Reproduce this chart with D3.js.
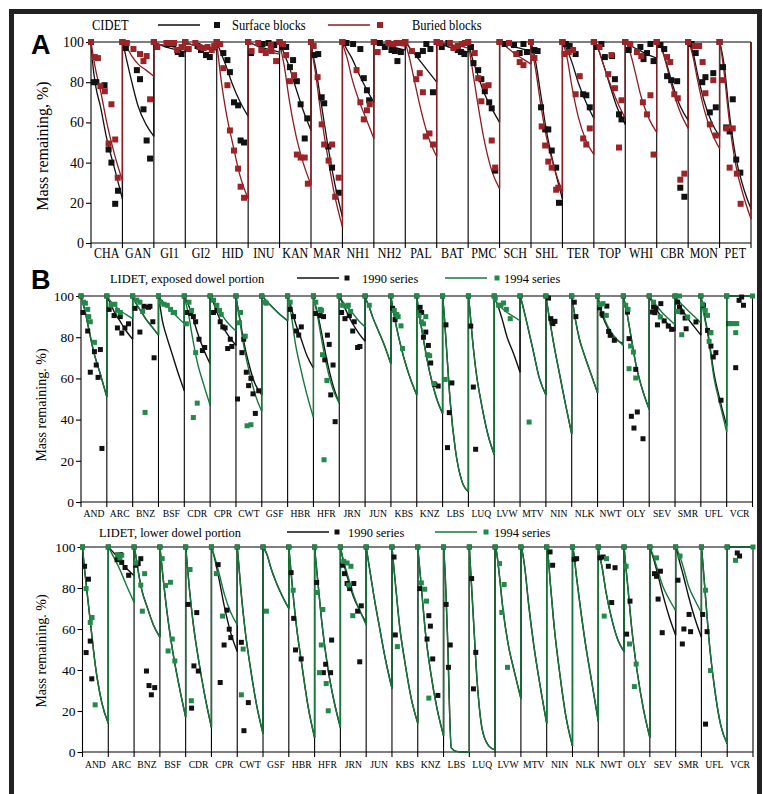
<!DOCTYPE html>
<html><head><meta charset="utf-8">
<script src="https://cdn.jsdelivr.net/npm/d3@7"></script>
<style>body{margin:0;background:#fff}svg{display:block}</style>
</head><body>
<svg id="c" width="763" height="794"></svg>
<script>
// ---------------- DATA ----------------
// model curve sample times (years) within each site's panel segment
const curveTimes = [0, 0.5, 1.5, 3, 5, 7.5, 10];
const initialMass = 100; // every series starts at 100 % at t = 0
const yTicks = [0, 20, 40, 60, 80, 100];

// Panel A: CIDET
const sitesA = ["CHA","GAN","GI1","GI2","HID","INU","KAN","MAR","NH1","NH2","PAL","BAT","PMC","SCH","SHL","TER","TOP","WHI","CBR","MON","PET"];
const surfaceCurve = [
 [100,90,78,68,52,37,22],[100,97,90,80,68,59,53],[100,99.5,99,98,97,96,95],[100,99.5,99,98.5,98,97,96],
 [100,98,94,88,79,70,63],[100,99.5,99,98,97,96,95],[100,98,94,88,78,66,56],[100,95,87,72,52,30,13],
 [100,99,96,92,85,77,70],[100,99.5,99,98.5,98,97,96],[100,99,97,94,90,85,80],[100,99.5,99,98,97,96,95],
 [100,97,91,84,75,67,60],[100,99.5,99,98.5,97.5,96.5,95.5],[100,97,90,75,55,37,22],[100,99,96,90,80,70,62],
 [100,99,96,89,79,67,59],[100,99.5,98.5,97,95.5,93.5,92],[100,99.5,97,90,79,68,61],[100,99,95,84,71,60,53],
 [100,97,88,66,44,28,17]];
const buriedCurve = [
 [100,95,86,76,60,44,31],[100,99,97,93,89,86,83],[100,99.5,99,98.5,98,97,96],[100,99.5,99,98.5,98,97.5,97],
 [100,93,80,65,50,33,22],[100,99.5,99,98,96.5,95,94],[100,96,88,72,55,40,29],[100,94,84,66,46,24,8],
 [100,97,92,82,72,62,52],[100,99.5,99.5,99,99,98.5,98],[100,97,91,80,66,52,43],[100,99.5,99.5,99,98.5,98,97],
 [100,95,85,70,52,36,27],[100,99.5,98.5,96.5,94,91.5,89],[100,95,86,70,52,37,25],[100,98,92,78,63,51,44],
 [100,99,96,89,80,70,62],[100,99,95,86,73,62,55],[100,99.5,97,89,77,65,57],[100,98.5,93,81,67,55,47],
 [100,96,84,62,40,24,12]];
const surfacePts = [
 [[0.9,80],[1.7,80],[4.3,78.5],[5.6,46.5],[6.5,40],[7.7,19.5],[8.6,26]],
 [[1.1,97],[4.6,86],[5.6,81.5],[6.7,66.5],[7.7,51],[8.8,42]],
 [[0.9,97.5],[4.2,99],[6.2,99],[7.6,95],[8.8,94]],
 [[3.9,98],[5.0,96],[6.6,93.5],[7.8,92.5]],
 [[0.2,99],[2.1,94.5],[3.4,91],[4.2,85],[5.5,70],[6.8,68.5],[7.6,51],[8.7,50]],
 [[0.9,94.5],[4.6,99],[6.5,99.5],[8.3,98.5]],
 [[0.9,97.5],[2.1,97.5],[3.3,87.5],[4.3,91],[5.5,80.5],[6.7,69],[8.0,52],[8.8,62]],
 [[1.1,93.5],[2.3,94],[3.4,72.5],[4.2,69.5],[5.5,48],[6.7,37.5],[8.8,25]],
 [[1.3,99.5],[3.4,99],[5.7,96.5],[6.8,82],[7.8,76],[8.5,71]],
 [[1.9,99.5],[3.5,97.5],[5.6,96],[6.7,95.5],[7.5,90.5],[8.6,95]],
 [[4.0,93.5],[5.6,95.5],[6.7,99],[8.0,96.5],[8.8,75]],
 [[1.6,97.5],[3.7,99.5],[6.7,96],[7.7,95],[8.8,94]],
 [[0.9,97.5],[1.7,89.5],[3.2,86],[4.2,81.5],[5.3,75.5],[6.7,70],[7.5,67],[8.6,36]],
 [[1.6,99],[4.6,98.5],[6.4,94.5],[7.6,99],[8.7,95]],
 [[1.1,96],[2.1,95.5],[3.2,67.5],[4.5,56.5],[5.5,56.5],[6.6,46],[8.0,37.5],[8.9,20]],
 [[1.1,99],[2.3,98],[4.2,94],[6.6,74],[7.6,73.5],[8.7,67.5]],
 [[0.9,97.5],[2.4,99],[3.5,92.5],[5.8,93],[6.7,81.5],[8.0,64],[8.8,61.5]],
 [[1.1,96],[4.8,97.5],[5.8,91.5],[6.9,94.5],[8.0,99],[9.0,90.5]],
 [[1.2,98.5],[2.4,96.5],[3.3,83],[4.6,81],[6.5,80.5],[7.5,27.5],[8.8,23]],
 [[1.1,99],[2.4,94.5],[4.5,80],[5.5,82.5],[6.9,65],[8.0,84.5],[8.8,67.5]],
 [[1.1,87.5],[2.1,57.5],[3.2,55.5],[4.2,71.5],[5.3,41.5],[6.6,35]]];
const buriedPts = [
 [[1.2,92.5],[2.2,92],[3.0,78],[4.4,75.5],[6.5,69],[5.6,49.5],[7.7,51.5],[8.5,32.5]],
 [[1.4,99.5],[3.5,96.5],[5.6,94],[6.7,90.5],[7.7,93],[8.8,71.5]],
 [[1.1,97.5],[4.0,99.5],[5.3,99.5],[6.4,99.5],[7.4,96],[8.8,97.5]],
 [[1.1,96.5],[3.2,99.5],[4.5,97.5],[5.8,97],[7.1,97.5],[8.4,96],[9.2,98]],
 [[1.1,99],[2.1,87],[3.4,78.5],[4.2,56],[5.5,46],[6.8,37],[7.6,28],[8.7,22.5]],
 [[1.1,95.5],[3.2,99.5],[4.2,96],[5.6,94.5],[7.2,98.5],[7.4,95.5],[8.9,90.5]],
 [[1.1,99],[2.1,93.5],[3.3,80.5],[4.6,83.5],[5.5,44],[6.7,42.5],[8.0,42.5],[9.0,29.5]],
 [[0.85,98],[2.1,82.5],[3.4,59],[4.2,49],[5.6,41],[6.7,49],[7.7,23],[8.8,32.5]],
 [[4.5,86],[5.7,70],[6.8,61.5],[7.8,66],[8.7,69]],
 [[1.2,95],[4.6,99.5],[6.2,99],[7.2,99.5],[8.8,99.5]],
 [[2.1,95.5],[3.5,81.5],[4.6,84.5],[5.6,75],[6.5,53],[7.7,54.5],[8.8,49]],
 [[1.1,99.5],[4.2,99.5],[5.3,97],[6.7,98],[8.0,99],[9.0,99.5]],
 [[2.1,94.5],[3.2,82],[4.2,70.5],[5.4,78],[6.5,78.5],[7.5,51],[8.6,37.5]],
 [[3.0,99.5],[5.3,94],[6.4,90],[7.6,88.5]],
 [[1.1,92],[3.4,58],[4.5,48.5],[5.5,40.5],[6.6,37.5],[8.0,26.5],[8.7,27.5]],
 [[0.7,94],[2.0,95],[3.4,96],[4.2,74],[5.5,83],[6.6,52],[7.6,49],[8.7,57]],
 [[1.8,97.5],[4.6,84],[5.6,93.5],[6.7,77],[8.0,47.5],[8.8,71]],
 [[1.6,99],[3.7,95],[5.1,93],[5.6,70],[6.9,64],[8.0,73.5],[9.0,44]],
 [[3.3,92.5],[4.3,90],[5.6,74],[6.7,72],[7.5,31.5],[8.8,34.5]],
 [[2.1,98],[3.5,98],[4.6,90],[5.5,74.5],[6.9,59],[8.0,81],[8.8,53.5]],
 [[1.1,81],[2.1,57],[3.2,37.5],[4.2,57],[5.5,34.5],[6.7,19.5]]];

// Panels B and C: LIDET
const sitesL = ["AND","ARC","BNZ","BSF","CDR","CPR","CWT","GSF","HBR","HFR","JRN","JUN","KBS","KNZ","LBS","LUQ","LVW","MTV","NIN","NLK","NWT","OLY","SEV","SMR","UFL","VCR"];
const exposed1990Curve = [
 [100,97.5,93,84,72.5,62,51],[100,98.5,96,92,88,83,79],[100,98.5,96,93,89,85,81],[100,96,88,81,73,63,54],
 [100,98.5,96,91,82.5,74,67],[100,99,96,91,85,80,76],[100,96,89,78,67,57,52],[100,99.5,98,96,93.5,90.5,88],
 [100,98,94,87,80,71,65],[100,97,92,83,70,57,48],[100,98.5,96,92,87,82,78],[100,98,95,89.5,83.5,76,67],
 [100,96,89,80,70,60,52],[100,95,87,76,63,51,43],[100,93,75,48,25,10,5],[100,94,80,63,48,33,23],
 [100,98,95,89,80,72,63],[100,98,93,85,74,60,52],[100,96,88,77,64,48,33],[100,96,88,79,71,62,53],
 [100,97.5,92,87,82,78.5,77],[100,97,91,80,66,54,45],[100,98.5,96.5,93,89.5,86,83],[100,99,96.5,93,89,85,81],
 [100,97,90,80,63,49,37],[100,100,100,100,100,100,100]];
const exposed1994Curve = [
 [100,97.5,93,84,72.5,62,51],[100,99,97.5,95.5,93,91,89],[100,98.5,96,93,89,85,81],[100,99,97.5,95.5,93,89.5,86.5],
 [100,97,92,81,68,57,47],[100,99,97,94,90,86,83],[100,96,88,76,64,52,44],[100,99.5,98,96,93.5,90.5,88],
 [100,97,90,77,65,52,41],[100,97,91,80,67,55,48],[100,99,97,95,92,88,85],[100,98,95,89.5,83.5,76,67],
 [100,96,89,80,70,60,52],[100,95,87,76,63,51,43],[100,93,75,48,25,10,5],[100,94,80,63,48,33,23],
 [100,98,96,94,92,90,88],[100,98,93,85,74,60,52],[100,96,88,77,64,48,33],[100,96,88,79,71,62,53],
 [100,98,93,88,83,79,76],[100,97,91,80,66,54,45],[100,99,97.5,95,92,89,86],[100,99,97.5,95.5,93,90,87],
 [100,96,89,79,61,47,34],[100,100,100,100,100,100,100]];
const exposed1990Pts = [
 [[0.8,92],[2.6,83],[3.6,63],[5.2,73],[5.9,66.5],[6.6,60.5],[7.5,74],[8.1,26]],
 [[0.9,93.5],[2.8,90.5],[4.1,84.5],[5.2,90],[5.8,82],[7.0,84.5],[8.4,86.5]],
 [[0.9,94],[2.8,82.5],[4.4,95],[6.1,94.5],[6.7,95],[7.8,87.5],[8.3,70]],
 [],
 [[1.2,92],[2.5,91.5],[3.5,90],[4.4,87.5],[5.7,79],[7.0,73.5],[7.9,75]],
 [[1.3,92],[2.6,93],[3.9,87.5],[4.9,85],[5.8,84.5],[6.8,74.5],[7.8,79],[8.4,75.5]],
 [[0.6,50],[1.7,92],[2.3,72.5],[3.0,79],[4.0,63],[4.9,56.5],[5.8,60],[6.6,52.5],[7.5,43],[8.8,54]],
 [],
 [[1.0,93.5],[2.3,90],[3.4,83],[4.3,81],[5.3,85]],
 [[0.9,91.5],[2.6,90.5],[3.9,90],[4.4,69],[5.4,81],[6.1,76.5],[6.7,52],[7.6,66.5],[8.4,39]],
 [[0.9,92],[2.2,89],[3.9,90.5],[5.2,83],[5.8,87.5],[7.1,75],[8.0,75.5]],
 [],
 [[0.65,94],[1.6,88.5]],
 [[1.3,94.5],[1.9,92],[2.6,80],[3.5,82.5],[4.5,76],[5.4,67.5],[7.0,57],[8.3,56.3]],
 [[1.3,86],[3.6,57.8],[2.6,43.4],[1.9,26.4]],
 [[0.9,85.4],[1.9,55.8],[2.8,25.6]],
 [],
 [],
 [[1.0,99],[1.9,89],[2.7,86.6],[3.5,87.7]],
 [[1.0,97],[1.6,90]],
 [[0.8,94.2],[1.7,91.4],[2.1,90.6],[3.6,95.1],[4.3,82.8],[4.9,80.9],[6.5,78.5]],
 [[1.6,92.2],[2.2,79.3],[4.8,64.4],[3.1,41.6],[5.4,43.7],[4.1,35.9],[7.6,30.7]],
 [[1.3,92.2],[1.7,94.7],[2.2,91.9],[2.6,94],[3.2,86],[4.5,96.3],[5.8,87.9],[7.4,85.4],[8.7,83.8]],
 [[1.0,97],[1.7,94.5],[2.7,92.2],[3.9,89.3],[4.3,84.1],[8.1,87.4]],
 [[1.0,95.5],[2.6,83.3],[3.6,82.2],[3.9,75.7],[4.8,70.4],[5.8,72.5],[7.8,49.4]],
 [[0.9,86.6],[3.5,65.2],[4.8,97.9],[5.8,99.5],[6.5,95.5]]];
const exposed1994Pts = [
 [[1.0,97],[1.7,96.5],[2.6,93.5],[3.0,90],[3.6,87.5],[5.2,77.5]],
 [[1.6,95.5],[3.1,96],[4.1,93],[5.2,92]],
 [[1.6,98],[2.8,97],[3.9,92.5],[4.8,43.5]],
 [[0.8,97],[2.1,96],[3.4,95.5],[4.7,93.5],[5.7,92],[6.2,92]],
 [[0.8,86.5],[1.8,97],[2.8,93],[4.4,72.5],[3.5,41],[5.0,48]],
 [[1.3,98],[2.6,95.5],[3.6,93],[4.3,91]],
 [[1.4,87],[1.7,92],[3.6,80.5],[4.3,37],[5.8,37.5]],
 [[1.3,97],[1.7,96.5]],
 [[1.0,97]],
 [[0.9,97],[2.6,93.5],[3.1,93],[3.5,71.5],[5.2,59],[4.1,20.5]],
 [[1.3,95.5],[2.6,95],[3.5,95.5],[4.4,92.5]],
 [[1.6,95.5]],
 [[1.3,93],[2.3,91],[2.8,90],[3.9,85.5],[4.5,74.5]],
 [[0.9,90.5],[1.8,87.5],[2.6,86.5],[3.5,90],[4.1,71.5],[5.0,71],[6.7,57.5]],
 [[1.0,59.5]],
 [],
 [[0.4,99],[1.7,95.5],[2.6,95.5],[3.6,96.6],[4.7,93.5],[6.2,89]],
 [[3.5,38.8]],
 [],
 [],
 [[1.0,95.8],[2.1,96.3],[3.4,90.6]],
 [[0.9,95.5],[1.8,93.5],[2.8,75.7],[3.9,72.8],[2.2,64.7],[4.8,60.2]],
 [[1.7,97],[4.3,89.8]],
 [[1.7,100],[1.0,92.5],[2.6,81.2],[4.9,89.8]],
 [[0.6,96],[1.7,93],[2.6,90.6],[3.9,82.2],[3.2,78]],
 [[1.3,86.6],[2.8,86.6],[3.9,86.6],[3.5,82.2],[10,100]]];

const lower1990Curve = [
 [100,93,81,64,42,24,14],[100,99.5,98,96,92.5,89,86],[100,97,89,79,71,62,56],[100,94,82,66,49,32,17],
 [100,93,79,62,45,27,12],[100,98,93,84,71,58,49],[100,93,78,60,42,23,9],[100,99,96.5,90,83,76,70],
 [100,93,79,61,43,22,7],[100,93,80,61,42,25,12],[100,97,91,84,76,69,63],[100,96,88,76,62,45,31],
 [100,93,80,61,44,26,14],[100,93,79,58,39,21,8],[100,90,58,2,0.3,0,0],[100,89,67,35,11,3,1],
 [100,98,88,70,53,39,26],[100,98,90,72,52,32,14],[100,96,81,60,39,17,3],[100,97,86,71,53,34,15],
 [100,96,90,78,66,55,49],[100,93,80,60,40,21,7],[100,98,94,87,77,66,57],[100,98,93,86,76,65,56],
 [100,93,77,54,32,13,4],[100,100,100,100,100,100,100]];
const lower1994Curve = [
 [100,93,81,64,42,24,14],[100,99,96.5,93,87.5,80,73],[100,97,89,79,71,62,56],[100,94,82,66,49,32,17],
 [100,93,79,62,45,27,12],[100,98,94,87,77,68,62],[100,93,78,60,42,23,9],[100,99,96.5,90,83,76,70],
 [100,93,79,61,43,22,7],[100,93,80,61,42,25,12],[100,97,92,85.5,77,69,62],[100,96,88,76,62,45,31],
 [100,93,80,61,44,26,14],[100,93,79,58,39,21,8],[100,90,58,2,0.3,0,0],[100,89,67,35,11,3,1],
 [100,98,88,70,53,39,26],[100,98,90,72,52,32,14],[100,96,81,60,39,17,3],[100,97,86,71,53,34,15],
 [100,96,90,78,66,55,49],[100,93,80,60,40,21,7],[100,98.5,95,89,81,74.5,69],[100,99,96,90,81,74,68],
 [100,93,77,54,32,13,4],[100,100,100,100,100,100,100]];
const lower1990Pts = [
 [[0.8,90.6],[1.4,48.5],[2.3,84.3],[3.0,54.1],[3.6,35.7]],
 [[3.4,93.8],[4.7,96.3],[5.2,92.5],[6.5,90],[7.9,86.2]],
 [[0.65,91.1],[1.6,91.9],[2.6,94.3],[4.8,39.5],[5.8,32.4],[6.7,27.9],[8.0,31.4]],
 [],
 [[0.9,72],[2.3,21.4],[4.3,68],[3.2,42],[4.9,39.5]],
 [[2.6,91.4],[3.4,33.9],[4.9,52.2],[6.0,69.2],[6.9,59.9],[7.5,55.8]],
 [[1.6,53.5],[4.3,24.1],[2.6,10.4]],
 [],
 [[0.9,87.5],[1.9,65.2],[2.6,49.8],[4.8,45.4]],
 [[0.8,82.7],[3.4,38.7],[4.3,42.8],[6.2,38.7],[6.6,54.6]],
 [[0.9,91.1],[1.6,87],[2.6,82.2],[3.6,79.7],[5.2,82.2],[6.7,68.7],[8.1,71.3],[7.5,44]],
 [],
 [[0.8,95.1],[1.3,57.1]],
 [[0.8,79.7],[4.3,66.5],[4.9,61.4],[3.6,55.1],[5.8,45.4],[7.8,27.6]],
 [[1.0,72],[2.6,52.2],[1.9,41.3]],
 [[0.9,84.6],[2.5,48.6],[1.6,30.8]],
 [],
 [],
 [[1.3,97.6],[2.3,91.1]],
 [[0.65,94],[1.6,94.3]],
 [[0.65,94.7],[1.9,95.1],[3.9,90.6],[6.5,89.9],[5.2,72.9]],
 [[1.0,57.5],[2.3,73.6]],
 [[1.8,87],[2.6,85.7],[4.1,88.2],[3.2,74.6],[4.8,58.2]],
 [[0.9,83.8],[2.6,52.7],[3.2,60],[5.2,67.1],[5.8,58.7]],
 [[0.5,67.1],[2.2,58.7],[1.6,13.6]],
 [[3.9,97.1],[4.8,95.6]]];
const lower1994Pts = [
 [[1.4,79.7],[3.0,63.2],[3.7,65.6],[4.9,23]],
 [[3.6,96.3],[4.5,94.7],[5.2,96]],
 [[0.65,92.2],[2.6,81.4],[3.2,68.7],[4.1,87]],
 [[0.9,94.3],[2.2,81.2],[4.1,82.8],[3.2,49.3],[4.8,55.1],[5.8,44.4]],
 [[1.7,89],[2.2,25]],
 [[1.9,87],[4.3,66.3]],
 [[2.3,50.2],[1.6,27.9]],
 [[1.3,68.7]],
 [[1.7,78.9]],
 [[0.8,77.8],[1.9,38.7],[2.6,52.2],[3.2,69.5],[4.5,33.4],[5.3,20.1]],
 [[1.3,93],[2.6,92.2],[4.1,90.6],[3.2,81.4],[4.8,66.5]],
 [],
 [[2.1,51.4]],
 [[1.4,82.5],[2.7,79.4],[3.4,73.6],[4.3,26.3]],
 [],
 [],
 [[1.7,91.9],[3.5,81.7],[2.6,68.1],[4.8,41.3]],
 [],
 [],
 [],
 [[3.2,94.3],[2.3,66.3]],
 [[0.8,90.6],[2.1,52.7],[4.7,42.9],[4.0,31.9]],
 [[2.6,94.7]],
 [[1.7,95.6]],
 [[1.6,78.9],[3.5,39.7]],
 [[3.2,93.5],[10,100]]];

// ---------------- DRAWING ----------------
const svg = d3.select('#c');
const serif = '"Liberation Serif","Times New Roman",Times,serif';
const sans = '"Liberation Sans",Arial,Helvetica,sans-serif';
const C = {black:'#111111', red:'#8e1c20', redPt:'#9c2327', green:'#15783a', greenPt:'#23894a'};

// frame
svg.append('rect').attr('x',11.5).attr('y',11.5).attr('width',748).attr('height',800)
  .attr('fill','none').attr('stroke','#222').attr('stroke-width',5);

// horizontally condensed serif text (the original figure's text is narrow)
function ctext(parent, x, y, str, size, sx, anchor){
  return parent.append('text')
    .attr('transform',`translate(${x},${y}) scale(${sx},1)`)
    .attr('text-anchor',anchor||'start').attr('font-family',serif)
    .attr('font-size',size).attr('fill','#000').text(str);
}

function panel(o){
  const band = d3.scaleBand().domain(o.sites).range([o.x0,o.x1]);
  const w = band.bandwidth();
  const tS = d3.scaleLinear().domain([0,10]).range([0,w]);
  const y = d3.scaleLinear().domain([0,100]).range([o.yBot,o.yTop]);
  const X = (s,t) => band(s) + tS(t);
  const g = svg.append('g');
  const bounds = o.sites.map(s=>band(s)).concat([o.x1]);
  // separators
  g.append('g').selectAll('line').data(bounds).join('line')
    .attr('x1',d=>d).attr('x2',d=>d).attr('y1',y(0)).attr('y2',y(100))
    .attr('stroke','#000').attr('stroke-width',1.1);
  g.append('line').attr('x1',o.x0).attr('x2',o.x1).attr('y1',y(100)).attr('y2',y(100))
    .attr('stroke','#000').attr('stroke-width',1.1);
  g.append('line').attr('x1',o.x0).attr('x2',o.x1).attr('y1',y(0)).attr('y2',y(0))
    .attr('stroke','#000').attr('stroke-width',1.1);
  g.append('g').selectAll('line').data(bounds).join('line')
    .attr('x1',d=>d).attr('x2',d=>d).attr('y1',y(0)).attr('y2',y(0)+5)
    .attr('stroke','#000').attr('stroke-width',1.1);
  const ya = g.append('g').attr('transform',`translate(${o.x0},0)`)
    .call(d3.axisLeft(y).tickValues(yTicks).tickSize(5).tickSizeOuter(0).tickPadding(2));
  ya.select('.domain').remove();
  ya.selectAll('line').attr('stroke','#000').attr('stroke-width',1.1);
  ya.selectAll('text').attr('font-family',serif).attr('font-size',o.tickFont).attr('fill','#000');
  // site labels
  const lg = g.append('g');
  o.sites.forEach(s=>ctext(lg, band(s)+w/2, o.labelY, s, o.labelFont, o.sx, 'middle'));
  // y title
  g.append('text').attr('transform',`translate(${o.titleX},${o.titleY}) rotate(-90)`)
    .attr('text-anchor','middle').attr('font-family',serif).attr('font-size',o.titleFont)
    .attr('fill','#000').text(o.title);
  // curves
  const line = d3.line().x(d=>d[0]).y(d=>d[1]).curve(d3.curveMonotoneX);
  o.series.forEach(se=>{
    const cg = g.append('g');
    o.sites.forEach((s,i)=>{
      const pts = curveTimes.map((t,k)=>[X(s,t), y(se.curve[i][k])]);
      cg.append('path').attr('d',line(pts)).attr('fill','none')
        .attr('stroke',se.color).attr('stroke-width',o.lw);
      cg.append('line').attr('x1',X(s,10)).attr('x2',X(s,10))
        .attr('y1',y(se.curve[i][curveTimes.length-1])).attr('y2',y(100))
        .attr('stroke',se.color).attr('stroke-width',o.lw);
    });
  });
  // points
  o.series.forEach(se=>{
    const data = [];
    o.sites.forEach((s,i)=>{
      data.push({s, t:0, v:initialMass});
      se.pts[i].forEach(p=>data.push({s, t:p[0], v:p[1]}));
    });
    g.append('g').selectAll('rect').data(data).join('rect')
      .attr('x',d=>X(d.s,d.t)-o.ms/2).attr('y',d=>y(d.v)-o.ms/2)
      .attr('width',o.ms).attr('height',o.ms).attr('fill',se.ptColor);
  });
  // legend
  const L = o.legend;
  ctext(g, L.titleX, L.y+4.5, L.title, L.font, o.sx);
  o.series.forEach((se,k)=>{
    const it = L.items[k];
    g.append('line').attr('x1',it.x).attr('x2',it.x+42).attr('y1',L.y).attr('y2',L.y)
      .attr('stroke',se.color).attr('stroke-width',o.lw);
    g.append('rect').attr('x',it.sq-o.ms/2).attr('y',L.y-o.ms/2).attr('width',o.ms).attr('height',o.ms)
      .attr('fill',se.ptColor);
    ctext(g, it.tx, L.y+4.5, se.name, L.font, o.sx);
  });
  if (o.letter) {
    g.append('text').attr('x',o.letter.x).attr('y',o.letter.y).attr('font-family',sans)
      .attr('font-weight','bold').attr('font-size',27).attr('fill','#000').text(o.letter.t);
  }
}

panel({
  sites: sitesA, x0:91, x1:751, yTop:42, yBot:243, tickFont:14, labelFont:14, labelY:258, sx:0.86,
  title:'Mass remaining, %)', titleX:48, titleY:146, titleFont:16, lw:1.3, ms:6,
  series:[
    {name:'Surface blocks', curve:surfaceCurve, pts:surfacePts, color:C.black, ptColor:C.black},
    {name:'Buried blocks', curve:buriedCurve, pts:buriedPts, color:C.red, ptColor:C.redPt}],
  legend:{title:'CIDET', titleX:92, y:25, font:14.5, items:[{x:158, sq:217, tx:232},{x:328, sq:380, tx:412}]},
  letter:{t:'A', x:31, y:54}
});
panel({
  sites: sitesL, x0:81, x1:752.5, yTop:296, yBot:502, tickFont:13.5, labelFont:10.5, labelY:517, sx:0.92,
  title:'Mass remaining. %)', titleX:46, titleY:405, titleFont:14, lw:1.4, ms:5,
  series:[
    {name:'1990 series', curve:exposed1990Curve, pts:exposed1990Pts, color:C.black, ptColor:C.black},
    {name:'1994 series', curve:exposed1994Curve, pts:exposed1994Pts, color:C.green, ptColor:C.greenPt}],
  legend:{title:'LIDET, exposed dowel portion', titleX:110, y:278, font:13.5, items:[{x:297, sq:347, tx:362},{x:445, sq:497, tx:504}]},
  letter:{t:'B', x:31, y:289}
});
panel({
  sites: sitesL, x0:82.5, x1:753, yTop:547, yBot:752, tickFont:13.5, labelFont:10.5, labelY:768, sx:0.92,
  title:'Mass remaining. %)', titleX:46, titleY:651, titleFont:14, lw:1.4, ms:5,
  series:[
    {name:'1990 series', curve:lower1990Curve, pts:lower1990Pts, color:C.black, ptColor:C.black},
    {name:'1994 series', curve:lower1994Curve, pts:lower1994Pts, color:C.green, ptColor:C.greenPt}],
  legend:{title:'LIDET, lower dowel portion', titleX:99, y:532, font:13.5, items:[{x:287, sq:337, tx:348},{x:435, sq:486, tx:494}]},
  letter:null
});
</script>
</body></html>
